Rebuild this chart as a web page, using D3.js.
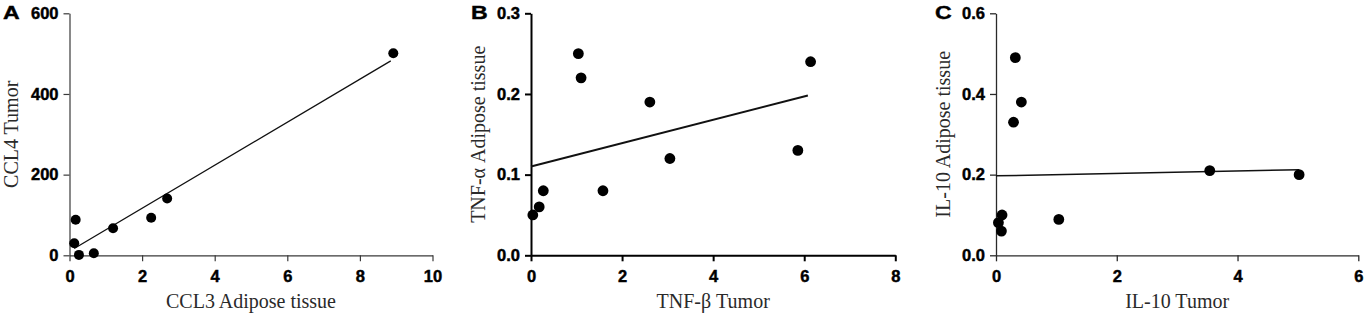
<!DOCTYPE html>
<html><head><meta charset="utf-8">
<script src="https://cdn.jsdelivr.net/npm/d3@7"></script>
<style>
html,body{margin:0;padding:0;background:#fff;}
svg{display:block;}
.tk{font-family:"Liberation Sans", Arial, sans-serif; font-weight:700; font-size:16.5px; fill:#000; stroke:#000; stroke-width:0.45px;}
.ttl{font-family:"Liberation Serif", "Times New Roman", serif; font-size:20px; fill:#2a2a2a;}
.plab{font-family:"Liberation Sans", Arial, sans-serif; font-weight:700; font-size:18.5px; fill:#000; stroke:#000; stroke-width:0.4px;}
</style></head>
<body>
<svg id="chart" width="1368" height="318"></svg>
<script>
// ---------- data ----------
const panelLabels = ["A", "B", "C"];
const xTitles = ["CCL3 Adipose tissue", "TNF-β Tumor", "IL-10 Tumor"];
const yTitles = ["CCL4 Tumor", "TNF-α Adipose tissue", "IL-10 Adipose tissue"];

const aX = [0.13, 0.17, 0.26, 0.67, 1.2, 2.25, 2.69, 8.92];
const aY = [30, 88, 1, 5, 67, 93, 141, 501];
const aFitX = [0.13, 8.85];
const aFitY = [17, 482];
const aXTicks = [0, 2, 4, 6, 8, 10];
const aYTicks = [0, 200, 400, 600];

const bX = [0.04, 0.18, 0.27, 1.04, 1.1, 1.58, 2.61, 3.05, 5.86, 6.14];
const bY = [0.05, 0.06, 0.08, 0.25, 0.22, 0.08, 0.19, 0.12, 0.13, 0.24];
const bFitX = [0, 6.08];
const bFitY = [0.110, 0.198];
const bXTicks = [0, 2, 4, 6, 8];
const bYTicks = [0, 0.1, 0.2, 0.3];

const cX = [0.04, 0.10, 0.09, 0.32, 0.42, 0.29, 1.04, 3.54, 5.02];
const cY = [0.081, 0.10, 0.06, 0.49, 0.38, 0.33, 0.089, 0.21, 0.20];
const cFitX = [0, 5.02];
const cFitY = [0.197, 0.212];
const cXTicks = [0, 2, 4, 6];
const cYTicks = [0, 0.2, 0.4, 0.6];

// ---------- layout ----------
const panels = [
  {x: aX, y: aY, fx: aFitX, fy: aFitY, xt: aXTicks, yt: aYTicks, yfmt: d3.format("d"),
   left: 69.5, right: 432.5, top: 13.3, bottom: 255.3, axisW: 1.2, axisC: "#3a3a3a", fitW: 1.3, r: 5,
   titleGap: 51.5, labelX: 3},
  {x: bX, y: bY, fx: bFitX, fy: bFitY, xt: bXTicks, yt: bYTicks, yfmt: d3.format(".1f"),
   left: 531, right: 895.3, top: 13.3, bottom: 255.3, axisW: 2, axisC: "#000", fitW: 2, r: 5.4,
   titleGap: 46, labelX: 471},
  {x: cX, y: cY, fx: cFitX, fy: cFitY, xt: cXTicks, yt: cYTicks, yfmt: d3.format(".1f"),
   left: 996, right: 1358.3, top: 13.3, bottom: 255.3, axisW: 1.3, axisC: "#2a2a2a", fitW: 1.5, r: 5.4,
   titleGap: 46, labelX: 935}
];

const svg = d3.select("#chart");

panels.forEach((p, i) => {
  const xs = d3.scaleLinear().domain([p.xt[0], p.xt[p.xt.length - 1]]).range([p.left, p.right]);
  const ys = d3.scaleLinear().domain([p.yt[0], p.yt[p.yt.length - 1]]).range([p.bottom, p.top]);
  const g = svg.append("g");

  const xa = g.append("g").attr("transform", `translate(0,${p.bottom})`)
    .call(d3.axisBottom(xs).tickValues(p.xt).tickSize(6).tickSizeOuter(0).tickPadding(8.5).tickFormat(d3.format("d")));
  const ya = g.append("g").attr("transform", `translate(${p.left},0)`)
    .call(d3.axisLeft(ys).tickValues(p.yt).tickSize(6).tickSizeOuter(0).tickPadding(5).tickFormat(p.yfmt));
  [xa, ya].forEach(a => {
    a.attr("font-family", null).attr("font-size", null);
    a.select(".domain").attr("stroke", p.axisC).attr("stroke-width", p.axisW);
    a.selectAll(".tick line").attr("stroke", p.axisC).attr("stroke-width", p.axisW);
    a.selectAll(".tick text").attr("class", "tk").attr("fill", null);
  });

  // fit line
  g.append("line")
    .attr("x1", xs(p.fx[0])).attr("y1", ys(p.fy[0]))
    .attr("x2", xs(p.fx[1])).attr("y2", ys(p.fy[1]))
    .attr("stroke", "#111").attr("stroke-width", p.fitW);

  // points
  g.selectAll("circle").data(p.x.map((v, k) => [v, p.y[k]])).enter().append("circle")
    .attr("cx", d => xs(d[0])).attr("cy", d => ys(d[1])).attr("r", p.r).attr("fill", "#000");

  // titles
  g.append("text").attr("class", "ttl").attr("x", (p.left + p.right) / 2).attr("y", 308)
    .attr("text-anchor", "middle").text(xTitles[i]);
  g.append("text").attr("class", "ttl")
    .attr("transform", `translate(${p.left - p.titleGap},${(p.top + p.bottom) / 2}) rotate(-90)`)
    .attr("text-anchor", "middle").text(yTitles[i]);

  // panel letter
  g.append("text").attr("class", "plab").attr("x", 0).attr("y", 0)
    .attr("transform", `translate(${p.labelX},18.5) scale(1.25,1)`)
    .text(panelLabels[i]);
});
</script>
</body></html>
